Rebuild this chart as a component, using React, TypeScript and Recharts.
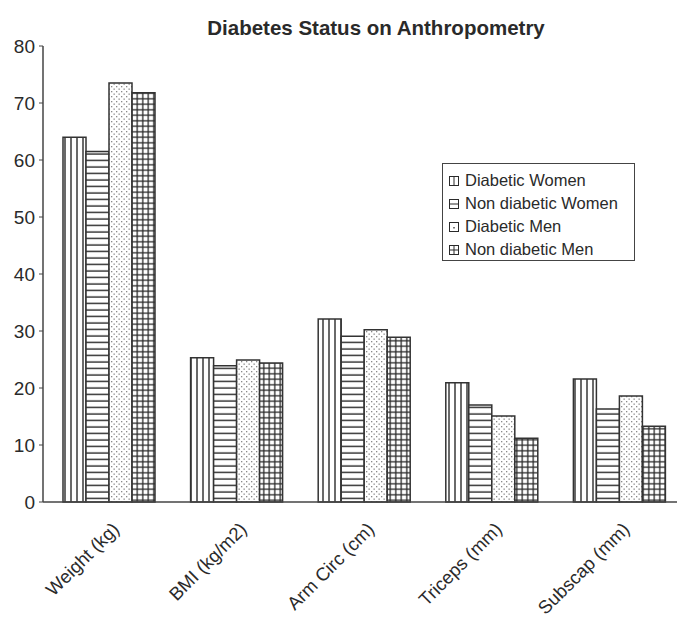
import React from 'react'
import { BarChart, Bar, XAxis, YAxis } from 'recharts'

const categories = ['Weight (kg)', 'BMI (kg/m2)', 'Arm Circ (cm)', 'Triceps (mm)', 'Subscap (mm)']
const diabeticWomen = [64, 25.3, 32.1, 20.9, 21.6]
const nonDiabeticWomen = [61.5, 23.9, 29.1, 17.0, 16.3]
const diabeticMen = [73.5, 24.9, 30.2, 15.1, 18.6]
const nonDiabeticMen = [71.8, 24.4, 28.9, 11.2, 13.3]
const yTicks = [0, 10, 20, 30, 40, 50, 60, 70, 80]

const series = [
  { key: 'dw', name: 'Diabetic Women', fill: 'url(#pVert)', swatch: 'vert' },
  { key: 'ndw', name: 'Non diabetic Women', fill: 'url(#pHorz)', swatch: 'horz' },
  { key: 'dm', name: 'Diabetic Men', fill: 'url(#pDots)', swatch: 'dot' },
  { key: 'ndm', name: 'Non diabetic Men', fill: 'url(#pGrid)', swatch: 'grid' },
]

const data = categories.map((c, i) => ({
  name: c,
  dw: diabeticWomen[i],
  ndw: nonDiabeticWomen[i],
  dm: diabeticMen[i],
  ndm: nonDiabeticMen[i],
}))

const font = '"Liberation Sans", Arial, sans-serif'
const ink = '#2a2a2a'

const Swatch = ({ kind }: { kind: string }) => (
  <svg width={10} height={10} style={{ marginRight: 6, flex: 'none' }}>
    <rect x={0.5} y={0.5} width={9} height={9} fill="#fff" stroke={ink} strokeWidth={1} />
    {kind === 'vert' && <line x1={5} y1={0.5} x2={5} y2={9.5} stroke={ink} />}
    {kind === 'horz' && <line x1={0.5} y1={5} x2={9.5} y2={5} stroke={ink} />}
    {kind === 'dot' && <rect x={4} y={5} width={2} height={1.5} fill="#777" />}
    {kind === 'grid' && (
      <>
        <line x1={5} y1={0.5} x2={5} y2={9.5} stroke={ink} />
        <line x1={0.5} y1={5} x2={9.5} y2={5} stroke={ink} />
      </>
    )}
  </svg>
)

const LegendBox = () => (
  <div
    style={{
      position: 'absolute',
      left: 434,
      top: 155,
      border: '1.5px solid #444',
      background: '#fff',
      width: 193,
      height: 98,
      padding: '5px 0 0 6px',
      fontFamily: font,
      fontSize: 16.5,
      color: ink,
      boxSizing: 'border-box',
    }}
  >
    {series.map(s => (
      <div key={s.key} style={{ display: 'flex', alignItems: 'center', height: 23 }}>
        <Swatch kind={s.swatch} />
        <span>{s.name}</span>
      </div>
    ))}
  </div>
)

const XTick = (props: any) => {
  const { x, y, payload } = props
  return (
    <g transform={`translate(${x + 7},${y + 17})`}>
      <text
        transform="rotate(-45)"
        textAnchor="end"
        dominantBaseline="middle"
        fontFamily={font}
        fontSize={18.5}
        fill={ink}
      >
        {payload.value}
      </text>
    </g>
  )
}

export default function App() {
  return (
    <div style={{ position: 'relative', width: 677, height: 609, background: '#fff' }}>
      <div
        style={{
          position: 'absolute',
          left: 0,
          width: 736,
          top: 8,
          textAlign: 'center',
          fontFamily: font,
          fontWeight: 'bold',
          fontSize: 20.5,
          color: ink,
        }}
      >
        Diabetes Status on Anthropometry
      </div>
      <BarChart
        width={677}
        height={609}
        data={data}
        margin={{ top: 38, right: 1, left: 0, bottom: 15 }}
        barGap={0}
        barCategoryGap={17}
      >
        <defs>
          <pattern id="pVert" patternUnits="userSpaceOnUse" width={6} height={6}>
            <rect width={6} height={6} fill="#fff" />
            <line x1={3} y1={0} x2={3} y2={6} stroke={ink} strokeWidth={1.4} />
          </pattern>
          <pattern id="pHorz" patternUnits="userSpaceOnUse" width={6} height={6.5}>
            <rect width={6} height={6.5} fill="#fff" />
            <line x1={0} y1={3} x2={6} y2={3} stroke={ink} strokeWidth={1.4} />
          </pattern>
          <pattern id="pDots" patternUnits="userSpaceOnUse" width={5} height={5}>
            <rect width={5} height={5} fill="#fff" />
            <rect x={0.5} y={0.5} width={1.3} height={1.3} fill="#888" />
            <rect x={3} y={3} width={1.3} height={1.3} fill="#888" />
          </pattern>
          <pattern id="pGrid" patternUnits="userSpaceOnUse" width={5.5} height={5.5}>
            <rect width={5.5} height={5.5} fill="#fff" />
            <line x1={2.75} y1={0} x2={2.75} y2={5.5} stroke={ink} strokeWidth={1.3} />
            <line x1={0} y1={2.75} x2={5.5} y2={2.75} stroke={ink} strokeWidth={1.3} />
          </pattern>
        </defs>
        <XAxis
          dataKey="name"
          height={100}
          padding={{ left: 3, right: 0 }}
          tickLine={false}
          axisLine={{ stroke: '#444', strokeWidth: 1.5 }}
          tick={<XTick />}
          interval={0}
        />
        <YAxis
          width={35}
          domain={[0, 80]}
          ticks={yTicks}
          interval={0}
          tickSize={4}
          tickMargin={4}
          axisLine={{ stroke: '#444', strokeWidth: 1.5 }}
          tickLine={{ stroke: '#444' }}
          tick={{ fontFamily: font, fontSize: 19, fill: ink }}
        />
        {series.map(s => (
          <Bar
            key={s.key}
            dataKey={s.key}
            name={s.name}
            fill={s.fill}
            stroke="#333"
            strokeWidth={1.5}
            isAnimationActive={false}
          />
        ))}
      </BarChart>
      <LegendBox />
    </div>
  )
}
